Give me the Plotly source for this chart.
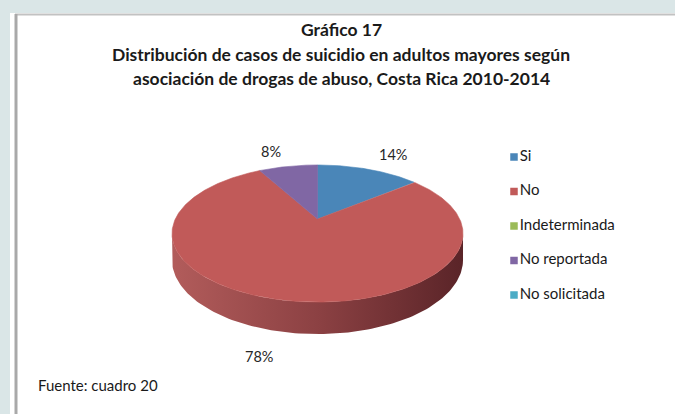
import numpy as np
import plotly.graph_objects as go

# ---------------- data ----------------
categories = ["Si", "No", "Indeterminada", "No reportada", "No solicitada"]
percentages = [14, 78, 0, 8, 0]
colors = ["#4a86b8", "#c15a59", "#9bbb59", "#8067a4", "#4bacc6"]
side_colors = {"No": ["#b25c5b", "#8c4143", "#5a2428"]}

title_lines = [
    "Gráfico 17",
    "Distribución de casos de suicidio en adultos mayores según",
    "asociación de drogas de abuso, Costa Rica 2010-2014",
]
source_text = "Fuente: cuadro 20"

# ---------------- geometry (pixel space, perspective 3D pie) ----------------
W, H = 675, 414
CX, CY = 317.5, 219.0
A0, B0 = 142.2, 65.5
P = 0.212
DEPTH = 25.2
FONT = "Lato"


def proj(theta_deg, r=1.0, drop=0.0):
    t = np.radians(np.asarray(theta_deg, dtype=float))
    X = r * np.sin(t)
    Z = r * np.cos(t)
    s = 1.0 / (1.0 + P * Z)
    return CX + A0 * X * s, CY - B0 * Z * s + drop * s


fig = go.Figure()

total = sum(percentages)
starts, ends = [], []
acc = 0.0
for v in percentages:
    starts.append(acc * 360 / total)
    acc += v
    ends.append(acc * 360 / total)

# side wall (front visible arc)
t_left = np.degrees(np.arccos(-P))          # ~102 deg
t_right = 360 - t_left                      # ~258 deg
for cat, v, a0, a1, col in zip(categories, percentages, starts, ends, colors):
    if v <= 0:
        continue
    lo, hi = max(a0, t_left), min(a1, t_right)
    if hi <= lo:
        continue
    th = np.linspace(lo, hi, 120)
    xt, yt = proj(th)
    xb, yb = proj(th[::-1], drop=DEPTH)
    xs = np.concatenate([xt, xb, xt[:1]])
    ys = np.concatenate([yt, yb, yt[:1]])
    sc = side_colors.get(cat, [col, col, col])
    fig.add_trace(go.Scatter(
        x=xs, y=ys, mode="lines", fill="toself",
        line=dict(width=0),
        fillgradient=dict(type="horizontal",
                          colorscale=[[0, sc[0]], [0.5, sc[1]], [1, sc[2]]]),
        hoverinfo="skip", showlegend=False))

# top slices
for cat, v, a0, a1, col in zip(categories, percentages, starts, ends, colors):
    if v <= 0:
        continue
    th = np.linspace(a0, a1, max(int((a1 - a0) * 2), 8))
    xa, ya = proj(th)
    xs = np.concatenate([[CX], xa, [CX]])
    ys = np.concatenate([[CY], ya, [CY]])
    fig.add_trace(go.Scatter(
        x=xs, y=ys, mode="lines", fill="toself", fillcolor=col,
        line=dict(width=0.6, color=col),
        hoverinfo="text", text=f"{cat}: {v}%", showlegend=False))

# percentage labels
for cat, v, a0, a1 in zip(categories, percentages, starts, ends):
    if v <= 0:
        continue
    mid = (a0 + a1) / 2
    sn, cs = np.sin(np.radians(mid)), np.cos(np.radians(mid))
    front = cs < 0
    lx, ly = proj(mid, r=1.2, drop=DEPTH if front else 0.0)
    if abs(sn) < 0.1:
        xa = "center"
    else:
        xa = "left" if sn > 0 else "right"
    fig.add_annotation(x=float(lx), y=float(ly), text=f"{v}%", showarrow=False,
                       xanchor=xa, yanchor="bottom" if not front else "middle",
                       yshift=-4 if not front else -1,
                       font=dict(family=FONT, size=14.5, color="#262626"))

# legend (custom, matching the original layout)
leg_x = 514
leg_y0, leg_dy = 157, 34.5
fig.add_trace(go.Scatter(
    x=[leg_x] * len(categories),
    y=[leg_y0 + i * leg_dy for i in range(len(categories))],
    mode="markers+text",
    marker=dict(symbol="square", size=7.5, color=colors, line=dict(width=0)),
    text=categories, textposition="middle right",
    textfont=dict(family=FONT, size=15, color="#1a1a1a"),
    hoverinfo="skip", showlegend=False))

# title
title_y = [29, 54, 78]
for txt, yy in zip(title_lines, title_y):
    fig.add_annotation(x=341, y=yy, text=f"<b>{txt}</b>", showarrow=False,
                       xanchor="center", yanchor="middle",
                       font=dict(family=FONT, size=17.5, color="#1a1a1a"))

fig.add_annotation(x=36, y=385, text=source_text, showarrow=False,
                   xanchor="left", yanchor="middle",
                   font=dict(family=FONT, size=15, color="#1a1a1a"))

shapes = [
    dict(type="rect", x0=10, y0=13, x1=W, y1=H, fillcolor="white",
         line=dict(width=0), layer="below"),
    dict(type="line", x0=15, y0=14.5, x1=W, y1=14.5,
         line=dict(color="#c2c2c2", width=2), layer="below"),
    dict(type="line", x0=16, y0=14, x1=16, y1=H,
         line=dict(color="#a9a9a9", width=3), layer="below"),
]

fig.update_layout(
    width=W, height=H, autosize=False,
    margin=dict(l=0, r=0, t=0, b=0),
    paper_bgcolor="#dae6e7", plot_bgcolor="#dae6e7",
    xaxis=dict(range=[0, W], visible=False, fixedrange=True),
    yaxis=dict(range=[H, 0], visible=False, fixedrange=True),
    shapes=shapes, showlegend=False, hovermode="closest",
)

fig.write_html(
    "out.html",
    config={"displayModeBar": False},
    post_script="document.body.style.margin='0';document.body.style.padding='0';"
                "document.body.style.overflow='hidden';"
                "document.body.style.background='#dae6e7';",
)
